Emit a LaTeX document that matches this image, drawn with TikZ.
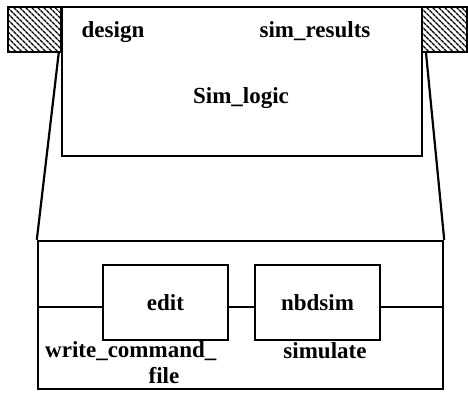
\documentclass[tikz,border=0pt]{standalone}
\usepackage{fontspec}
\setmainfont{Liberation Serif}
\usetikzlibrary{patterns.meta}

\tikzset{
  frame/.style={draw, line width=2.4pt, rectangle, inner sep=0pt},
  hatchbox/.style={frame, line width=2pt,
    pattern={Lines[angle=-45, distance=4pt, line width=1.5pt]}},
  wire/.style={line width=2.2pt},
  lbl/.style={inner sep=0pt, anchor=base, font=\fontsize{23}{23}\selectfont\bfseries},
}

\begin{document}
\begin{tikzpicture}[x=1pt, y=-1pt]
  \useasboundingbox (0,0) rectangle (468,392);

  % upper module with its two hatched port blocks
  \node[frame, minimum width=360pt, minimum height=149pt] (upper) at (242,81.5) {};
  \node[hatchbox, minimum width=53pt, minimum height=45pt] (lsq) at (34.5,29.5) {};
  \node[hatchbox, minimum width=45pt, minimum height=45pt] (rsq) at (444.5,29.5) {};

  \node[lbl] (design) at (113,37) {design};
  \node[lbl] (simres) at (315,37) {sim\_results};
  \node[lbl] (simlogic) at (241,103) {Sim\_logic};

  % expanded view of the module
  \node[frame, minimum width=405pt, minimum height=148pt] (lower) at (240.5,315) {};
  \node[frame, line width=2.2pt, minimum width=125pt, minimum height=75pt,
        font=\fontsize{23}{23}\selectfont\bfseries] (edit) at (165.5,302.5) {edit};
  \node[frame, line width=2.2pt, minimum width=125pt, minimum height=75pt,
        font=\fontsize{23}{23}\selectfont\bfseries] (nbdsim) at (317.5,302.5) {nbdsim};

  \node[lbl, anchor=base west] (wcmd) at (45,357) {write\_command\_};
  \node[lbl] (file) at (164,383) {file};
  \node[lbl] (simulate) at (325,358) {simulate};

  % zoom lines from the module to its expansion
  \coordinate (lz) at ([xshift=-3pt]lsq.south east);
  \coordinate (rz) at ([xshift=5pt]rsq.south west);
  \draw[wire] (lz) -- (lower.north west);
  \draw[wire] (rz) -- (lower.north east);

  % signal line through the two blocks
  \coordinate (hl) at (0,307);
  \draw[wire] (lower.west |- hl) -- (edit.west |- hl);
  \draw[wire] (edit.east |- hl) -- (nbdsim.west |- hl);
  \draw[wire] (nbdsim.east |- hl) -- (lower.east |- hl);
\end{tikzpicture}
\end{document}
